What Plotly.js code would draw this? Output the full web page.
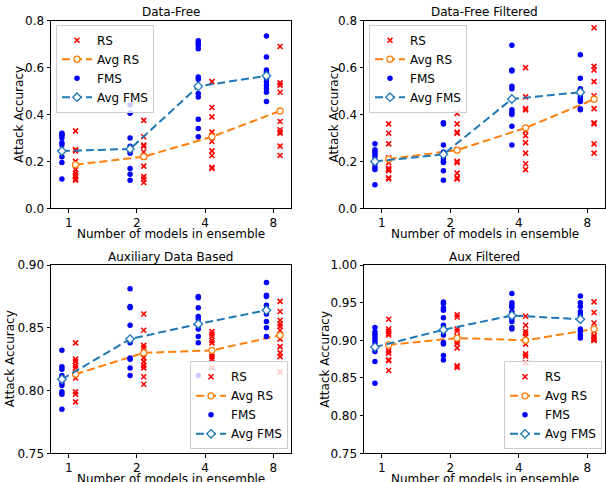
<!DOCTYPE html>
<html>
<head>
<meta charset="utf-8">
<script src="https://cdn.plot.ly/plotly-3.0.1.min.js"></script>
<style>html,body{margin:0;padding:0;background:#fff;}#chart{width:606px;height:482px;}</style>
</head>
<body>
<div id="chart"></div>
<script>
// Categories (number of models in ensemble)
const categories = ['1', '2', '4', '8'];
const panelTitles = ['Data-Free', 'Data-Free Filtered', 'Auxiliary Data Based', 'Aux Filtered'];
const xTitle = 'Number of models in ensemble';
const yTitle = 'Attack Accuracy';

// ---- Data-Free ----
const dfRS = [
  [0.33, 0.25, 0.245, 0.20, 0.165, 0.15, 0.14, 0.135, 0.125, 0.12],
  [0.375, 0.305, 0.27, 0.265, 0.24, 0.22, 0.18, 0.135, 0.125, 0.11],
  [0.54, 0.43, 0.39, 0.325, 0.31, 0.285, 0.245, 0.225, 0.175, 0.17],
  [0.69, 0.535, 0.525, 0.495, 0.37, 0.335, 0.325, 0.32, 0.265, 0.225]
];
const dfFMS = [
  [0.32, 0.315, 0.31, 0.30, 0.28, 0.27, 0.245, 0.22, 0.195, 0.125],
  [0.44, 0.405, 0.30, 0.265, 0.255, 0.245, 0.235, 0.17, 0.145, 0.12],
  [0.715, 0.705, 0.695, 0.68, 0.56, 0.55, 0.49, 0.475, 0.38, 0.34, 0.305],
  [0.735, 0.645, 0.59, 0.58, 0.555, 0.54, 0.525, 0.51, 0.495, 0.455]
];
const dfAvgRS = [0.186, 0.22, 0.305, 0.415];
const dfAvgFMS = [0.244, 0.253, 0.52, 0.565];

// ---- Data-Free Filtered ----
const dffRS = [
  [0.36, 0.32, 0.275, 0.215, 0.195, 0.17, 0.165, 0.16, 0.13, 0.125],
  [0.405, 0.36, 0.325, 0.32, 0.25, 0.20, 0.195, 0.15, 0.13, 0.125],
  [0.60, 0.475, 0.425, 0.42, 0.33, 0.31, 0.28, 0.235, 0.19, 0.165],
  [0.77, 0.605, 0.59, 0.54, 0.48, 0.425, 0.365, 0.36, 0.275, 0.235]
];
const dffFMS = [
  [0.275, 0.25, 0.24, 0.23, 0.22, 0.205, 0.19, 0.175, 0.165, 0.10],
  [0.365, 0.36, 0.27, 0.24, 0.225, 0.21, 0.20, 0.195, 0.16, 0.12],
  [0.695, 0.59, 0.585, 0.52, 0.51, 0.42, 0.41, 0.40, 0.35, 0.27],
  [0.655, 0.555, 0.51, 0.505, 0.49, 0.475, 0.465, 0.455, 0.425, 0.42]
];
const dffAvgRS = [0.21, 0.248, 0.343, 0.465];
const dffAvgFMS = [0.20, 0.23, 0.466, 0.495];

// ---- Auxiliary Data Based ----
const auxRS = [
  [0.838, 0.825, 0.823, 0.820, 0.818, 0.814, 0.810, 0.799, 0.797, 0.791],
  [0.861, 0.848, 0.836, 0.834, 0.826, 0.823, 0.820, 0.818, 0.811, 0.805],
  [0.847, 0.845, 0.843, 0.840, 0.838, 0.829, 0.827, 0.825, 0.818],
  [0.871, 0.863, 0.856, 0.853, 0.851, 0.848, 0.841, 0.835, 0.830, 0.827, 0.815]
];
const auxFMS = [
  [0.832, 0.819, 0.817, 0.812, 0.810, 0.806, 0.804, 0.799, 0.797, 0.785],
  [0.881, 0.867, 0.866, 0.852, 0.841, 0.838, 0.826, 0.825, 0.818, 0.812],
  [0.875, 0.874, 0.866, 0.859, 0.857, 0.852, 0.849, 0.843, 0.838, 0.812],
  [0.886, 0.876, 0.875, 0.868, 0.864, 0.861, 0.855, 0.850, 0.843]
];
const auxAvgRS = [0.813, 0.830, 0.832, 0.844];
const auxAvgFMS = [0.809, 0.841, 0.853, 0.864];

// ---- Aux Filtered ----
const auxfRS = [
  [0.928, 0.915, 0.912, 0.909, 0.907, 0.886, 0.883, 0.874, 0.873, 0.860],
  [0.934, 0.931, 0.915, 0.912, 0.905, 0.899, 0.896, 0.890, 0.866, 0.864],
  [0.932, 0.920, 0.912, 0.909, 0.905, 0.895, 0.882, 0.879, 0.870],
  [0.951, 0.937, 0.923, 0.912, 0.906, 0.904, 0.902, 0.901, 0.900]
];
const auxfFMS = [
  [0.917, 0.911, 0.908, 0.904, 0.900, 0.896, 0.890, 0.885, 0.872, 0.843],
  [0.951, 0.949, 0.943, 0.940, 0.930, 0.920, 0.907, 0.897, 0.895, 0.880, 0.874],
  [0.962, 0.950, 0.947, 0.944, 0.938, 0.933, 0.929, 0.925, 0.917, 0.915],
  [0.959, 0.950, 0.945, 0.938, 0.934, 0.929, 0.915, 0.912, 0.907, 0.903]
];
const auxfAvgRS = [0.894, 0.903, 0.900, 0.915];
const auxfAvgFMS = [0.891, 0.914, 0.933, 0.928];

const yTicks = [
  [0.0, 0.2, 0.4, 0.6, 0.8],
  [0.0, 0.2, 0.4, 0.6, 0.8],
  [0.75, 0.80, 0.85, 0.90],
  [0.75, 0.80, 0.85, 0.90, 0.95, 1.00]
];
const yTickText = [
  ['0.0', '0.2', '0.4', '0.6', '0.8'],
  ['0.0', '0.2', '0.4', '0.6', '0.8'],
  ['0.75', '0.80', '0.85', '0.90'],
  ['0.75', '0.80', '0.85', '0.90', '0.95', '1.00']
];

const panels = [
  {rs: dfRS, fms: dfFMS, avgRS: dfAvgRS, avgFMS: dfAvgFMS},
  {rs: dffRS, fms: dffFMS, avgRS: dffAvgRS, avgFMS: dffAvgFMS},
  {rs: auxRS, fms: auxFMS, avgRS: auxAvgRS, avgFMS: auxAvgFMS},
  {rs: auxfRS, fms: auxfFMS, avgRS: auxfAvgRS, avgFMS: auxfAvgFMS}
];

const W = 606, H = 482;
const xDom = [[51 / W, 291 / W], [364 / W, 605 / W]];
const yDom = [[1 - 208.3 / H, 1 - 20.7 / H], [1 - 453.3 / H, 1 - 265 / H]];
const yRanges = [[0, 0.8], [0, 0.8], [0.75, 0.90], [0.75, 1.00]];
// pixel positions of titles (layout only)
const panelTitleY = [11.7, 256.7];
const xTitleY = [234, 478.5];
const yTitleX = [[18.3, 333], [10, 324.7]];
const OFF = 0.1;
const FONT = 'DejaVu Sans, sans-serif';

const traces = [];
const layout = {
  width: W, height: H,
  margin: {l: 0, r: 0, t: 0, b: 0},
  paper_bgcolor: '#fff', plot_bgcolor: '#fff',
  font: {family: FONT, size: 12, color: '#000'},
  showlegend: true,
  annotations: []
};

panels.forEach((p, i) => {
  const col = i % 2, row = Math.floor(i / 2);
  const n = i + 1;
  const xa = 'x' + (n === 1 ? '' : n), ya = 'y' + (n === 1 ? '' : n);
  const lg = 'legend' + (n === 1 ? '' : n);
  const rx = [], ry = [], fx = [], fy = [];
  categories.forEach((c, k) => {
    p.rs[k].forEach(v => { rx.push(k + OFF); ry.push(v); });
    p.fms[k].forEach(v => { fx.push(k - OFF); fy.push(v); });
  });
  const cx = categories.map((c, k) => k);
  traces.push({
    x: rx, y: ry, xaxis: xa, yaxis: ya, legend: lg, name: 'RS', type: 'scatter', mode: 'markers',
    marker: {symbol: 'x-thin-open', size: 5, color: 'red', line: {color: 'red', width: 1.6}}
  });
  traces.push({
    x: cx.map(v => v + OFF), y: p.avgRS, xaxis: xa, yaxis: ya, legend: lg, name: 'Avg RS', type: 'scatter', mode: 'lines+markers',
    line: {color: '#ff7f0e', width: 2, dash: '8px,4px'},
    marker: {symbol: 'circle', size: 6, color: '#fff', line: {color: '#ff7f0e', width: 1.3}}
  });
  traces.push({
    x: fx, y: fy, xaxis: xa, yaxis: ya, legend: lg, name: 'FMS', type: 'scatter', mode: 'markers',
    marker: {symbol: 'circle', size: 5.5, color: '#0000ff'}
  });
  traces.push({
    x: cx.map(v => v - OFF), y: p.avgFMS, xaxis: xa, yaxis: ya, legend: lg, name: 'Avg FMS', type: 'scatter', mode: 'lines+markers',
    line: {color: '#1f77b4', width: 2, dash: '8px,4px'},
    marker: {symbol: 'diamond', size: 6.5, color: '#fff', line: {color: '#1f77b4', width: 1.3}}
  });

  const xKey = 'xaxis' + (n === 1 ? '' : n), yKey = 'yaxis' + (n === 1 ? '' : n);
  layout[xKey] = {
    domain: xDom[col], anchor: ya, range: [-0.26, 3.26],
    tickmode: 'array', tickvals: cx, ticktext: categories,
    showgrid: false, zeroline: false, showline: true, mirror: true, linecolor: '#000', linewidth: 1,
    ticks: 'outside', ticklen: 3.5, tickcolor: '#000', tickfont: {size: 12, family: FONT},
    automargin: false, fixedrange: true
  };
  layout[yKey] = {
    domain: yDom[row], anchor: xa, range: yRanges[i],
    tickmode: 'array', tickvals: yTicks[i], ticktext: yTickText[i],
    showgrid: false, zeroline: false, showline: true, mirror: true, linecolor: '#000', linewidth: 1,
    ticks: 'outside', ticklen: 3.5, tickcolor: '#000', tickfont: {size: 12, family: FONT},
    automargin: false, fixedrange: true
  };
  const xc = (xDom[col][0] + xDom[col][1]) / 2;
  const yc = (yDom[row][0] + yDom[row][1]) / 2;
  layout.annotations.push({
    text: panelTitles[i], xref: 'paper', yref: 'paper',
    x: xc, y: 1 - panelTitleY[row] / H,
    xanchor: 'center', yanchor: 'middle', showarrow: false,
    font: {size: 12, family: FONT, color: '#000'}
  });
  layout.annotations.push({
    text: xTitle, xref: 'paper', yref: 'paper',
    x: xc, y: 1 - xTitleY[row] / H,
    xanchor: 'center', yanchor: 'middle', showarrow: false, borderpad: 0,
    font: {size: 12, family: FONT, color: '#000'}
  });
  layout.annotations.push({
    text: yTitle, xref: 'paper', yref: 'paper', textangle: -90,
    x: yTitleX[row][col] / W, y: yc,
    xanchor: 'center', yanchor: 'middle', showarrow: false,
    font: {size: 12, family: FONT, color: '#000'}
  });
  const legendBase = {
    bgcolor: 'rgba(255,255,255,0.8)', bordercolor: '#cccccc', borderwidth: 1,
    font: {size: 12, family: FONT, color: '#000'}, xref: 'paper', yref: 'paper',
    traceorder: 'normal', itemclick: false, itemdoubleclick: false
  };
  if (row === 0) {
    layout[lg] = Object.assign({}, legendBase, {x: xDom[col][0] + 5 / W, y: yDom[row][1] - 4 / H, xanchor: 'left', yanchor: 'top'});
  } else {
    layout[lg] = Object.assign({}, legendBase, {x: xDom[col][1] - 3 / W, y: yDom[row][0] + 4 / H, xanchor: 'right', yanchor: 'bottom'});
  }
});

Plotly.newPlot('chart', traces, layout, {staticPlot: true, displayModeBar: false});
</script>
</body>
</html>
